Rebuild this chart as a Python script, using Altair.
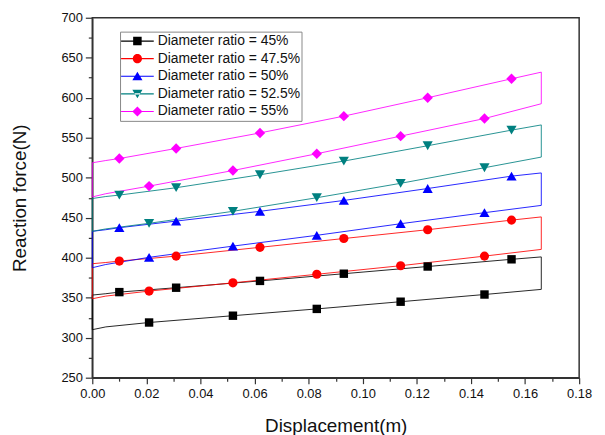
import altair as alt
import pandas as pd

# ---- data -------------------------------------------------------------
series = [
    "Diameter ratio = 45%",
    "Diameter ratio = 47.5%",
    "Diameter ratio = 50%",
    "Diameter ratio = 52.5%",
    "Diameter ratio = 55%",
]
colors = ["#000000", "#FF0000", "#0000FF", "#008080", "#FF00FF"]
shapes = ["square", "circle", "triangle-up", "triangle-down", "diamond"]
marker_sizes = [72, 85, 105, 105, 110]

# loading branch (lower) and unloading branch (upper, traversed backwards)
x_lower = [0.0, 0.005, 0.021, 0.052, 0.083, 0.114, 0.145, 0.166]
lower_marker = [False, False, True, True, True, True, True, False]
x_upper = [0.166, 0.155, 0.124, 0.093, 0.062, 0.031, 0.010, 0.005, 0.0]
upper_marker = [False, True, True, True, True, True, True, False, False]

lower_45 = [310.0, 313.5, 319.0, 327.5, 336.0, 345.0, 354.0, 360.4]
upper_45 = [401.0, 398.0, 389.0, 380.0, 371.0, 362.5, 357.0, 355.0, 353.3]

lower_475 = [348.7, 352.0, 358.3, 368.6, 379.3, 390.0, 402.0, 410.4]
upper_475 = [451.0, 447.0, 435.0, 424.0, 413.0, 402.0, 395.8, 394.0, 392.5]

lower_50 = [387.5, 391.5, 400.5, 414.5, 428.0, 442.5, 456.3, 465.4]
upper_50 = [506.0, 502.0, 486.5, 471.6, 458.0, 445.8, 437.5, 435.0, 433.0]

lower_525 = [433.0, 436.0, 443.0, 458.0, 475.0, 493.0, 512.5, 525.8]
upper_525 = [566.0, 559.5, 540.0, 520.8, 503.7, 487.5, 478.3, 476.5, 474.0]

lower_55 = [476.0, 480.0, 489.5, 509.0, 530.0, 552.0, 574.0, 592.5]
upper_55 = [632.0, 623.7, 600.0, 577.0, 556.0, 536.6, 524.0, 521.5, 518.7]

lowers = [lower_45, lower_475, lower_50, lower_525, lower_55]
uppers = [upper_45, upper_475, upper_50, upper_525, upper_55]

x_ticks = [round(i * 0.01, 2) for i in range(0, 19)]
y_ticks = list(range(250, 701, 25))

# ---- table ------------------------------------------------------------
rows = []
for s, lo, up, ms in zip(series, lowers, uppers, marker_sizes):
    k = 0
    for xv, yv, m in zip(x_lower, lo, lower_marker):
        rows.append(dict(series=s, x=xv, y=yv, order=k, marker=m, msize=ms)); k += 1
    for xv, yv, m in zip(x_upper, up, upper_marker):
        rows.append(dict(series=s, x=xv, y=yv, order=k, marker=m, msize=ms)); k += 1
    # close the loop back to the start of the loading branch
    rows.append(dict(series=s, x=x_lower[0], y=lo[0], order=k, marker=False, msize=ms))
df = pd.DataFrame(rows)

# legend symbols: short line (thin filled bar) with the marker in the middle
BAR = "M-1,-0.035H1V0.035H-1Z"
legend_paths = [
    BAR + "M-0.26,-0.26H0.26V0.26H-0.26Z",
    BAR + "M0.28,0A0.28,0.28,0,1,1,-0.28,0A0.28,0.28,0,1,1,0.28,0Z",
    BAR + "M0,-0.27L0.31,0.25L-0.31,0.25Z",
    BAR + "M0,0.27L0.31,-0.25L-0.31,-0.25Z",
    BAR + "M0,-0.31L0.31,0L0,0.31L-0.31,0Z",
]

FONT = "Liberation Sans"

x_axis = alt.Axis(
    title="Displacement(m)",
    values=x_ticks,
    labelExpr="round(datum.value*100) % 2 == 0 ? format(datum.value, '.2f') : ''",
    tickSize={"condition": {"test": "round(datum.value*100) % 2 == 0", "value": 6}, "value": 3.5},
    labelOverlap=False, labelFlush=False, grid=False,
    labelFont=FONT, labelFontSize=13, labelColor="#111", labelPadding=4,
    titleFont=FONT, titleFontSize=19, titleFontWeight="normal", titleColor="#111", titlePadding=16,
    domainColor="#333", tickColor="#333", domainWidth=1.5, tickWidth=1.2,
)
y_axis = alt.Axis(
    title="Reaction force(N)",
    values=y_ticks,
    labelExpr="datum.value % 50 == 0 ? format(datum.value, 'd') : ''",
    tickSize={"condition": {"test": "datum.value % 50 == 0", "value": 7}, "value": 4},
    labelOverlap=False, labelFlush=False, grid=False,
    labelFont=FONT, labelFontSize=13, labelColor="#111", labelPadding=3,
    titleFont=FONT, titleFontSize=19, titleFontWeight="normal", titleColor="#111", titlePadding=32,
    domainColor="#333", tickColor="#333", domainWidth=1.5, tickWidth=1.2,
)

xenc = alt.X("x:Q", scale=alt.Scale(domain=[0, 0.18], nice=False, zero=False), axis=x_axis)
yenc = alt.Y("y:Q", scale=alt.Scale(domain=[250, 700], nice=False, zero=False), axis=y_axis)

legend = alt.Legend(
    title=None, orient="none", legendX=28, legendY=14,
    symbolSize=1089, clipHeight=17, rowPadding=0.75, padding=1,
    strokeColor="#888", fillColor="white",
    labelFont=FONT, labelFontSize=14, labelColor="#111", labelOffset=4,
    symbolStrokeWidth=0, symbolOpacity=1,
)

lines = alt.Chart(df).mark_line(strokeWidth=1, opacity=0.85).encode(
    x=xenc, y=yenc,
    color=alt.Color("series:N", scale=alt.Scale(domain=series, range=colors), legend=None),
    order="order:Q",
    detail="series:N",
)

points = alt.Chart(df).transform_filter("datum.marker").mark_point(filled=True, opacity=1).encode(
    x=xenc, y=yenc,
    color=alt.Color("series:N", scale=alt.Scale(domain=series, range=colors), legend=None),
    shape=alt.Shape("series:N", scale=alt.Scale(domain=series, range=shapes), legend=None),
    size=alt.Size("msize:Q", scale=None),
)

# legend-only layer (no rows drawn)
legend_layer = alt.Chart(df).transform_filter("false").mark_point(
    filled=True, opacity=1, size=1089, strokeWidth=0
).encode(
    x=xenc, y=yenc,
    color=alt.Color("series:N", scale=alt.Scale(domain=series, range=colors), legend=legend),
    shape=alt.Shape("series:N", scale=alt.Scale(domain=series, range=legend_paths), legend=legend),
)

chart = alt.layer(lines, points, legend_layer).resolve_scale(
    shape="independent", color="independent"
).properties(
    width=491, height=363,
    padding={"left": 2, "top": 2, "right": 5, "bottom": 3},
    background="white",
).configure_view(stroke="#333", strokeWidth=1.5)

chart.save("out.html", embed_options={"renderer": "svg", "actions": False})
